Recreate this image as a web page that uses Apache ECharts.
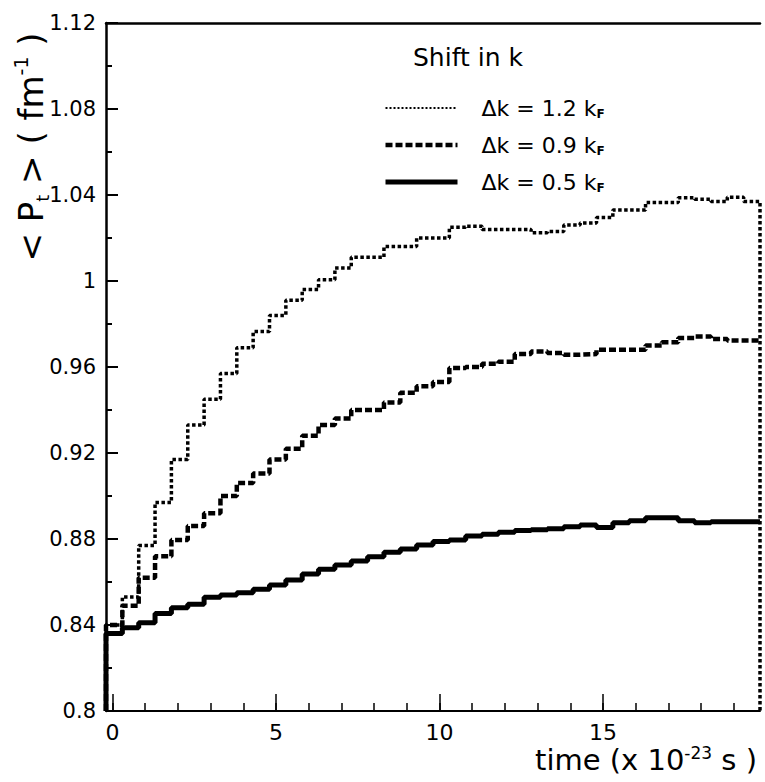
<!DOCTYPE html>
<html>
<head>
<meta charset="utf-8">
<script src="https://cdn.jsdelivr.net/npm/echarts@6/dist/echarts.min.js"></script>
<style>
  html, body { margin: 0; padding: 0; background: #fff; }
  #chart { width: 765px; height: 782px; }
</style>
</head>
<body>
<div id="chart"></div>
<script>
// bin edges of the histograms (time, x 10^-23 s)
var binEdges = [-0.2, 0.3, 0.8, 1.3, 1.8, 2.3, 2.8, 3.3, 3.8, 4.3,
  4.8, 5.3, 5.8, 6.3, 6.8, 7.3, 7.8, 8.3, 8.8, 9.3,
  9.8, 10.3, 10.8, 11.3, 11.8, 12.3, 12.8, 13.3, 13.8, 14.3,
  14.8, 15.3, 15.8, 16.3, 16.8, 17.3, 17.8, 18.3, 18.8, 19.3, 19.8];

// <Pt> per bin
var shift12 = [0.840, 0.853, 0.877, 0.897, 0.917, 0.933, 0.945, 0.957, 0.969, 0.9765,
  0.984, 0.991, 0.996, 1.0006, 1.006, 1.011, 1.011, 1.016, 1.016, 1.020,
  1.020, 1.025, 1.0255, 1.024, 1.024, 1.024, 1.0225, 1.023, 1.026, 1.027,
  1.0295, 1.033, 1.033, 1.0365, 1.0365, 1.0387, 1.038, 1.037, 1.039, 1.037];
var shift09 = [0.840, 0.849, 0.862, 0.872, 0.8795, 0.886, 0.892, 0.900, 0.906, 0.9105,
  0.917, 0.922, 0.928, 0.933, 0.936, 0.940, 0.940, 0.9435, 0.948, 0.951,
  0.953, 0.9595, 0.960, 0.9615, 0.9625, 0.966, 0.9672, 0.9665, 0.9657, 0.966,
  0.968, 0.968, 0.968, 0.970, 0.9715, 0.9735, 0.9742, 0.973, 0.9723, 0.9723];
var shift05 = [0.836, 0.8387, 0.841, 0.8454, 0.848, 0.8496, 0.8529, 0.854, 0.855, 0.8566,
  0.8586, 0.8609, 0.8637, 0.8659, 0.8679, 0.8698, 0.8718, 0.8738, 0.8754, 0.8772,
  0.8788, 0.8795, 0.8814, 0.8822, 0.8831, 0.8839, 0.8843, 0.8848, 0.8857, 0.8865,
  0.8854, 0.8876, 0.8885, 0.8899, 0.8899, 0.8885, 0.8876, 0.888, 0.888, 0.888];

var seriesNames = ['Δk = 1.2 k_F', 'Δk = 0.9 k_F', 'Δk = 0.5 k_F'];
var majorTicks = [0, 5, 10, 15];
var minorTicks = [0, 1, 2, 3, 4, 5, 6, 7, 8, 9, 10, 11, 12, 13, 14, 15, 16, 17, 18, 19];

var FONT = 'DejaVu Sans';

// histogram outline: rise from the floor, one point per bin edge
function histo(vals, dropAtEnd) {
  var pts = [[binEdges[0], 0.8]];
  for (var i = 0; i < vals.length; i++) {
    pts.push([binEdges[i], vals[i]]);
  }
  pts.push([binEdges[binEdges.length - 1], vals[vals.length - 1]]);
  if (dropAtEnd) pts.push([binEdges[binEdges.length - 1], 0.8]);
  return pts;
}

var chart = echarts.init(document.getElementById('chart'), null, { renderer: 'svg' });

var xBase = {
  type: 'value', min: -0.2, max: 19.8, gridIndex: 0,
  splitLine: { show: false }
};

var option = {
  animation: false,
  backgroundColor: '#fff',
  textStyle: { fontFamily: FONT, color: '#000' },
  grid: { left: 106, right: 5, top: 23, bottom: 71 },
  xAxis: [
    Object.assign({}, xBase, {
      position: 'bottom',
      axisLine: { onZero: false, lineStyle: { color: '#000', width: 2 } },
      axisTick: { inside: true, length: 17, lineStyle: { color: '#000', width: 1.5 }, customValues: majorTicks },
      axisLabel: { color: '#000', fontSize: 22, fontFamily: FONT, margin: 10, customValues: majorTicks }
    }),
    Object.assign({}, xBase, {
      position: 'bottom',
      axisLine: { show: false, onZero: false },
      axisTick: { inside: true, length: 8, lineStyle: { color: '#000', width: 1.5 }, customValues: minorTicks },
      axisLabel: { show: false }
    }),
    Object.assign({}, xBase, {
      position: 'top',
      axisLine: { onZero: false, lineStyle: { color: '#000', width: 2.5 } },
      axisTick: { show: false },
      axisLabel: { show: false }
    })
  ],
  yAxis: {
    type: 'value', min: 0.8, max: 1.12, interval: 0.04,
    axisLine: { show: true, onZero: false, lineStyle: { color: '#000', width: 2.5 } },
    axisTick: { show: true, inside: true, length: 12, lineStyle: { color: '#000', width: 2 } },
    minorTick: { show: true, splitNumber: 2, length: 6, lineStyle: { color: '#000', width: 2 } },
    axisLabel: { color: '#000', fontSize: 21, fontFamily: FONT, margin: 10 },
    splitLine: { show: false }
  },
  legend: {
    orient: 'vertical',
    left: 378, top: 92,
    itemWidth: 72, itemHeight: 14, itemGap: 14,
    itemStyle: { color: 'rgba(0,0,0,0)', opacity: 0, borderWidth: 0 },
    data: [
      { name: seriesNames[0], lineStyle: { width: 2, type: [2, 2] } },
      { name: seriesNames[1], lineStyle: { width: 4.5, type: [7, 3] } },
      { name: seriesNames[2], lineStyle: { width: 5 } }
    ],
    formatter: function (name) {
      return '{pad| }{t|' + name.replace('_F', '}{sub|F}');
    },
    textStyle: {
      fontFamily: FONT, color: '#000',
      rich: {
        pad: { width: 19 },
        t: { fontSize: 22, fontFamily: FONT, lineHeight: 24 },
        sub: { fontSize: 12, fontFamily: FONT, verticalAlign: 'bottom', lineHeight: 24, fontWeight: 'bold' }
      }
    }
  },
  graphic: [
    {
      type: 'text', left: 413, top: 45,
      style: { text: 'Shift in k', fontSize: 25, fontFamily: FONT, fill: '#000' }
    },
    {
      type: 'text', x: 31, y: 147, rotation: Math.PI / 2,
      style: {
        text: '< P{sub|t} > ( fm{sup|-1} )',
        fontSize: 34, fontFamily: FONT, fill: '#000',
        align: 'center', verticalAlign: 'middle',
        rich: {
          sub: { fontSize: 18, fontFamily: FONT, verticalAlign: 'bottom', lineHeight: 40 },
          sup: { fontSize: 19, fontFamily: FONT, verticalAlign: 'top', lineHeight: 40 }
        }
      }
    },
    {
      type: 'text', x: 757, y: 760,
      style: {
        text: 'time (x 10{sup|-23} s )',
        fontSize: 29, fontFamily: FONT, fill: '#000',
        align: 'right', verticalAlign: 'middle',
        rich: {
          sup: { fontSize: 17, fontFamily: FONT, verticalAlign: 'top', lineHeight: 32 }
        }
      }
    }
  ],
  series: [
    {
      name: seriesNames[0], type: 'line', step: 'end', xAxisIndex: 0,
      data: histo(shift12, true), showSymbol: false, symbol: 'none', clip: false, z: 4,
      itemStyle: { color: '#000' },
      lineStyle: { color: '#000', width: 3.5, type: [3.5, 2.5] }
    },
    {
      name: seriesNames[1], type: 'line', step: 'end', xAxisIndex: 0,
      data: histo(shift09, false), showSymbol: false, symbol: 'none', clip: false, z: 3,
      itemStyle: { color: '#000' },
      lineStyle: { color: '#000', width: 4.5, type: [7, 3] }
    },
    {
      name: seriesNames[2], type: 'line', step: 'end', xAxisIndex: 0,
      data: histo(shift05, false), showSymbol: false, symbol: 'none', clip: false, z: 2,
      itemStyle: { color: '#000' },
      lineStyle: { color: '#000', width: 5 }
    }
  ]
};

chart.setOption(option);
</script>
</body>
</html>
